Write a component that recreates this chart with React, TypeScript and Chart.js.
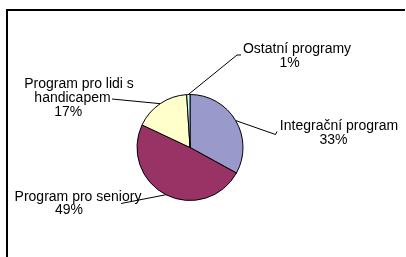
import React, { useEffect, useRef } from 'react';
import { Chart, registerables } from 'chart.js';

Chart.register(...registerables);

const categories = ['Integrační program', 'Program pro seniory', 'Program pro lidi s handicapem', 'Ostatní programy'];
const shares = [33, 49, 17, 1];
const sliceColors = ['#9999CC', '#993366', '#FFFFCC', '#CCFFFF'];

// how each category label is wrapped into lines
const labelBreaks = [[18], [19], [18, 29], [16]];

const W = 406;
const H = 257;
const FONT = '14px "Liberation Sans", Arial, Helvetica, sans-serif';

// layout of the callout labels: center x per line, first baseline, line step, leader end points
const labelLayout = [
  { cx: [339, 333.5], y: 130, step: 13.8, leader: [[275.5, 134.5], [277, 131.5]] },
  { cx: [78, 69], y: 200.5, step: 13.8, leader: [[121, 203.5]] },
  { cx: [79, 72.5, 68.2], y: 88, step: 13.8, leader: [[112, 99]] },
  { cx: [297, 289.5], y: 53, step: 13.6, leader: [[237, 55], [241, 55]] },
];

function wrap(text: string, breaks: number[]): string[] {
  const out: string[] = [];
  let start = 0;
  for (const b of breaks) {
    out.push(text.slice(start, b).trim());
    start = b;
  }
  if (start < text.length) out.push(text.slice(start).trim());
  return out.filter((s) => s.length > 0);
}

const framePlugin = {
  id: 'frame',
  beforeDraw(chart: any) {
    const ctx = chart.ctx;
    ctx.save();
    ctx.fillStyle = '#ffffff';
    ctx.fillRect(0, 0, W, H);
    ctx.fillStyle = '#000000';
    ctx.fillRect(6, 9, 399, 2);
    ctx.fillRect(6, 9, 2, H - 9);
    ctx.restore();
  },
};

const calloutPlugin = {
  id: 'callouts',
  afterDatasetsDraw(chart: any) {
    const ctx = chart.ctx;
    const meta = chart.getDatasetMeta(0);
    ctx.save();
    meta.data.forEach((arc: any, i: number) => {
      const p = arc.getProps(['x', 'y', 'startAngle', 'endAngle', 'outerRadius'], true);
      const mid = (p.startAngle + p.endAngle) / 2;
      const sx = p.x + Math.cos(mid) * p.outerRadius;
      const sy = p.y + Math.sin(mid) * p.outerRadius;
      const lay = labelLayout[i];
      ctx.strokeStyle = '#000000';
      ctx.lineWidth = 1;
      ctx.beginPath();
      ctx.moveTo(sx, sy);
      lay.leader.forEach((pt) => ctx.lineTo(pt[0], pt[1]));
      ctx.stroke();

      const lines = [...wrap(categories[i], labelBreaks[i]), `${shares[i]}%`];
      ctx.font = FONT;
      ctx.fillStyle = '#000000';
      ctx.textAlign = 'center';
      ctx.textBaseline = 'alphabetic';
      lines.forEach((ln, k) => {
        ctx.fillText(ln, lay.cx[k] ?? lay.cx[0], lay.y + k * lay.step);
      });
    });
    ctx.restore();
  },
};

export default function App() {
  const ref = useRef<HTMLCanvasElement | null>(null);
  useEffect(() => {
    if (!ref.current) return;
    const chart = new Chart(ref.current, {
      type: 'pie',
      data: {
        labels: categories,
        datasets: [
          {
            data: shares,
            backgroundColor: sliceColors,
            borderColor: '#000000',
            borderWidth: 1,
          },
        ],
      },
      options: {
        responsive: false,
        animation: false,
        devicePixelRatio: 1,
        radius: 53,
        layout: { padding: { left: 100, right: 126, top: 60, bottom: 22 } },
        plugins: {
          legend: { display: false },
          tooltip: { enabled: false },
        },
      } as any,
      plugins: [framePlugin, calloutPlugin],
    });
    return () => chart.destroy();
  }, []);
  return (
    <div style={{ position: 'fixed', left: 0, top: 0, width: W, height: H, background: '#fff' }}>
      <canvas ref={ref} width={W} height={H} style={{ display: 'block', width: W, height: H }} />
    </div>
  );
}
